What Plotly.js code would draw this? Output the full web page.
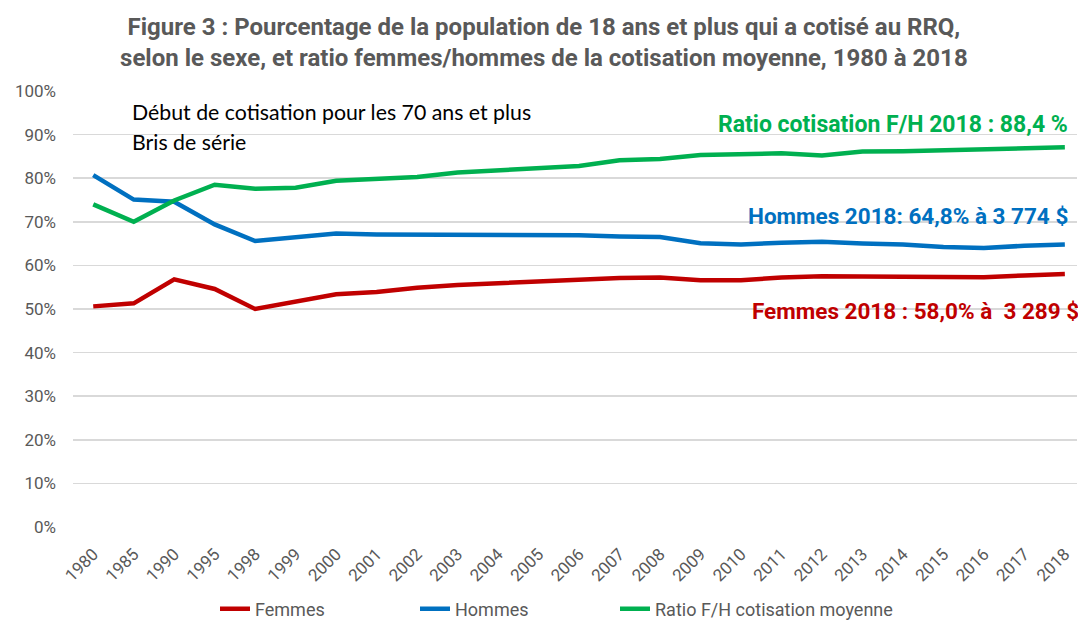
<!DOCTYPE html>
<html>
<head>
<meta charset="utf-8">
<script src="https://cdn.plot.ly/plotly-3.0.1.min.js"></script>
<style>
html,body{margin:0;padding:0;background:#fff;}
#chart{width:1078px;height:621px;}
</style>
</head>
<body>
<div id="chart"></div>
<script>
const years = ['1980','1985','1990','1995','1998','1999','2000','2001','2002','2003','2004','2005','2006','2007','2008','2009','2010','2011','2012','2013','2014','2015','2016','2017','2018'];
const femmes = [50.6,51.3,56.8,54.6,50.0,51.7,53.4,53.9,54.9,55.5,55.9,56.2,56.7,57.1,57.2,56.6,56.6,57.2,57.5,57.5,57.5,57.5,57.3,57.7,58.0];
const hommes = [80.7,75.1,74.6,69.4,65.6,66.5,67.3,67.1,67.1,67.1,67.0,67.0,66.9,66.6,66.5,65.1,64.8,65.2,65.4,65.0,64.8,64.2,64.0,64.5,64.8];
const ratio  = [74.0,70.0,74.9,78.5,77.6,77.8,79.4,79.9,80.3,81.3,81.8,82.2,82.8,84.1,84.4,85.3,85.5,85.7,85.2,86.1,86.2,86.4,86.6,86.8,87.1];
const seriesNames = ['Femmes','Hommes','Ratio F/H cotisation moyenne'];
const yTicks = [0,10,20,30,40,50,60,70,80,90,100];
const yTickText = yTicks.map(v => v + '%');

const narrow = 'Roboto, "Liberation Sans", Arial, sans-serif';
const gray = '#595959';

function tr(y, name, color, legend){
  return {x: years, y: y, name: name, type:'scatter', mode:'lines', legend: legend,
    line:{color:color, width:4.5, shape:'linear'}, hoverinfo:'x+y'};
}

const data = [
  tr(femmes, seriesNames[0], '#C00000', 'legend'),
  tr(hommes, seriesNames[1], '#0070C0', 'legend'),
  tr(ratio, seriesNames[2], '#00B050', 'legend2')
];

const legendFont = {family:narrow, size:18, color:gray};
const legY = (621-609)/621;

const layout = {
  width:1078, height:621,
  margin:{l:73, r:1, t:91, b:94},
  paper_bgcolor:'#fff', plot_bgcolor:'#fff',
  title:{text:'Figure 3 : Pourcentage de la population de 18 ans et plus qui a cotisé au RRQ,<br>selon le sexe, et ratio femmes/hommes de la cotisation moyenne, 1980 à 2018',
    font:{family:narrow, size:24, color:gray, weight:'bold'},
    xref:'paper', x:0.469, xanchor:'center', yref:'container', y:1-35/621, yanchor:'middle'},
  xaxis:{type:'category', range:[-0.5,24.3], showgrid:false, zeroline:false, showline:false,
    ticks:'', tickangle:-45, ticklabelstandoff:13, tickfont:{family:narrow, size:17, color:gray}, fixedrange:true},
  yaxis:{range:[0,100], tickvals:yTicks, ticktext:yTickText, showgrid:true, gridcolor:'#D9D9D9', gridwidth:1.5,
    zeroline:false, showline:false, ticks:'', ticklabelstandoff:16, tickfont:{family:narrow, size:17, color:gray}, fixedrange:true},
  showlegend:true,
  legend:{orientation:'h', x:(215-73)/1004, xanchor:'left', yref:'container', y:legY, yanchor:'middle',
    font:legendFont, entrywidth:155, entrywidthmode:'pixels'},
  legend2:{orientation:'h', x:(615-73)/1004, xanchor:'left', yref:'container', y:legY, yanchor:'middle',
    font:legendFont},
  shapes:[
    {type:'line', xref:'x', yref:'y', x0:'1998', x1:'1998', y0:0.7, y1:91.5, line:{color:'#4472C4', width:1}}
  ],
  annotations:[
    {text:'Début de cotisation pour les 70 ans et plus', xref:'paper', yref:'paper', x:(130-73)/1004, xanchor:'left', y:(526-111)/436, yanchor:'middle', showarrow:false,
      font:{family:'Lato, "Open Sans", sans-serif', size:21.3, color:'#000'}},
    {text:'Bris de série', xref:'paper', yref:'paper', x:(130-73)/1004, xanchor:'left', y:(526-141)/436, yanchor:'middle', showarrow:false,
      font:{family:'Lato, "Open Sans", sans-serif', size:21.3, color:'#000'}},
    {text:'<b>Ratio cotisation F/H 2018 : 88,4 %</b>', xref:'paper', yref:'paper', x:(1070-73)/1004, xanchor:'right', y:(526-123)/436, yanchor:'middle', showarrow:false,
      font:{family:narrow, size:23, color:'#00B050'}},
    {text:'<b>Hommes 2018: 64,8% à 3 774 $</b>', xref:'paper', yref:'paper', x:(1070-73)/1004, xanchor:'right', y:(526-215)/436, yanchor:'middle', showarrow:false,
      font:{family:narrow, size:22.5, color:'#0070C0'}},
    {text:'<b>Femmes 2018 : 58,0% à  3 289 $</b>', xref:'paper', yref:'paper', x:(1081-73)/1004, xanchor:'right', y:(526-310)/436, yanchor:'middle', showarrow:false,
      font:{family:narrow, size:22.5, color:'#C00000'}}
  ]
};

Plotly.newPlot('chart', data, layout, {displayModeBar:false, staticPlot:true});
</script>
</body>
</html>
